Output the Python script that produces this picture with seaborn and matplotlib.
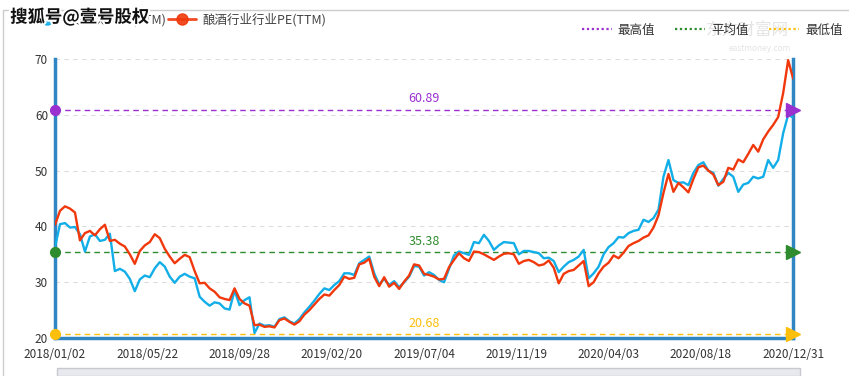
import matplotlib
matplotlib.use("Agg")
import matplotlib.pyplot as plt
from matplotlib.lines import Line2D
from matplotlib.patches import Rectangle
import matplotlib.patheffects as pe
import numpy as np
import pandas as pd
import seaborn as sns

# roughly weekly samples, 2018/01/02 .. 2020/12/31
food_pe = [
    36.3, 40.4, 40.6, 39.8, 39.9, 38.6, 35.5, 38.2, 38.6, 37.4,
    37.6, 38.7, 32.0, 32.4, 31.9, 30.6, 28.4, 30.5, 31.2, 30.9,
    32.5, 33.6, 32.8, 31.0, 29.9, 31.0, 31.5, 31.0, 30.7, 27.4,
    26.5, 25.8, 26.4, 26.2, 25.3, 25.1, 28.5, 25.9, 26.8, 27.3,
    20.9, 22.6, 22.2, 22.3, 22.0, 23.4, 23.7, 23.0, 22.6, 23.4,
    24.6, 25.6, 26.7, 27.9, 28.9, 28.6, 29.5, 30.2, 31.6, 31.6,
    31.3, 33.4, 34.0, 34.6, 31.6, 29.6, 30.6, 29.5, 30.2, 29.1,
    30.0, 31.0, 32.9, 32.8, 31.2, 31.8, 31.3, 30.4, 30.0, 32.4,
    34.8, 35.5, 35.2, 34.9, 37.2, 37.0, 38.5, 37.4, 35.8, 36.6,
    37.2, 37.1, 37.0, 35.0, 35.6, 35.6, 35.4, 35.2, 34.3, 34.4,
    33.8, 31.8, 32.8, 33.6, 34.0, 34.6, 35.8, 30.7, 31.6, 32.8,
    35.0, 36.3, 37.0, 38.1, 38.0, 38.8, 39.2, 39.4, 41.2, 40.8,
    41.5, 43.0, 48.9, 51.9, 48.3, 47.8, 47.9, 47.4, 49.6, 51.0,
    51.5, 50.0, 49.6, 47.3, 48.5, 49.6, 48.9, 46.2, 47.5, 47.8,
    48.9, 48.6, 48.9, 51.9, 50.5, 51.9, 56.7, 60.0, 59.5,
]
liquor_pe = [
    40.3, 42.8, 43.6, 43.2, 42.5, 37.5, 38.8, 39.2, 38.4, 39.5,
    40.3, 37.4, 37.6, 36.9, 36.4, 35.0, 33.3, 35.6, 36.6, 37.2,
    38.6, 37.9, 36.0, 34.6, 33.4, 34.2, 34.9, 34.5, 32.0, 29.8,
    29.9, 28.9, 28.3, 27.3, 27.0, 26.8, 28.9, 27.0, 26.2, 25.8,
    22.3, 22.4, 22.0, 22.1, 21.9, 23.2, 23.5, 22.9, 22.4, 23.0,
    24.2, 25.0, 26.0, 27.0, 27.8, 27.6, 28.6, 29.5, 31.0, 30.6,
    30.8, 33.2, 33.5, 34.2, 31.0, 29.3, 30.9, 29.2, 29.9, 28.8,
    30.1, 31.2, 33.2, 33.0, 31.5, 31.3, 31.0, 30.5, 30.6, 32.7,
    34.0, 35.2, 34.3, 33.8, 35.5, 35.4, 35.0, 34.5, 34.0, 34.6,
    35.1, 35.2, 35.0, 33.3, 33.8, 34.0, 33.6, 33.0, 33.2, 33.9,
    32.6, 29.8, 31.5, 32.0, 32.2, 33.0, 33.8, 29.3, 30.0, 31.6,
    32.8, 33.5, 34.8, 34.3, 35.3, 36.5, 37.0, 37.4, 38.0, 38.4,
    39.8, 42.0, 46.0, 49.4, 46.2, 47.8, 47.0, 46.1, 48.5, 50.6,
    50.9, 50.0, 49.3, 47.4, 48.0, 50.5, 50.2, 52.0, 51.5, 53.0,
    54.6, 53.4, 55.6, 57.0, 58.2, 59.6, 63.9, 69.8, 66.5,
]
date_labels = ["2018/01/02", "2018/05/22", "2018/09/28", "2019/02/20", "2019/07/04",
               "2019/11/19", "2020/04/03", "2020/08/18", "2020/12/31"]
ref_names = ["最高值", "平均值", "最低值"]
ref_values = [60.89, 35.38, 20.68]

series_names = ["食品饮料PE(TTM)", "酿酒行业行业PE(TTM)"]
blue = "#12aee8"
red = "#f0380c"
ref_colors = ["#9b30d0", "#2e8b2e", "#fdbf0a"]
spine_col = "#2f86c3"

sns.set_theme(style="white")
plt.rcParams['font.family'] = ['Noto Sans CJK SC', 'DejaVu Sans']

n = len(food_pe)
df = pd.DataFrame({"idx": np.arange(n), "food": food_pe, "liquor": liquor_pe})

fig = plt.figure(figsize=(8.49, 3.76), dpi=100)
ax = fig.add_axes([0.0648, 0.101, 0.8694, 0.742])

for yv in [30, 40, 50, 60, 70]:
    ax.axhline(yv, color="#dddddd", lw=0.8, ls=(0, (4, 4)), zorder=0)

sns.lineplot(data=df, x="idx", y="food", color=blue, lw=1.7, ax=ax, zorder=3)
sns.lineplot(data=df, x="idx", y="liquor", color=red, lw=1.7, ax=ax, zorder=4)

for v, c in zip(ref_values, ref_colors):
    ax.axhline(v, color=c, lw=1.0, ls=(0, (4, 3)), zorder=2)
    ax.plot([0], [v], marker="o", ms=7, color=c, clip_on=False, zorder=6)
    ax.plot([n - 1], [v], marker=">", ms=10, color=c, clip_on=False, zorder=6)
    ax.text((n - 1) / 2, v + 0.8, f"{v:.2f}", color=c, fontsize=9, ha="center", va="bottom")

ax.set_xlim(0, n - 1)
ax.set_ylim(20, 70)
ax.set_yticks([20, 30, 40, 50, 60, 70])
ax.set_xticks(np.linspace(0, n - 1, len(date_labels)))
ax.set_xticklabels(date_labels)
ax.tick_params(axis="both", labelsize=8.5, labelcolor="#333333", length=0)
ax.tick_params(axis="x", pad=7)
ax.tick_params(axis="y", pad=5)
ax.set_xlabel("")
ax.set_ylabel("")
ax.spines["top"].set_visible(False)
for s in ["left", "right", "bottom"]:
    ax.spines[s].set_color(spine_col)
    ax.spines[s].set_linewidth(2.5)

# legends
h1 = [Line2D([], [], color=c, lw=2, marker="o", ms=8, alpha=0.9) for c in [blue, red]]
fig.legend(h1, series_names, loc="center left", bbox_to_anchor=(0.026, 0.948), ncol=2,
           frameon=False, fontsize=9, handlelength=2.2, columnspacing=0.2, handletextpad=0.5,
           labelcolor="#444444")
h2 = [Line2D([], [], color=c, lw=1.6, ls=(0, (1, 1.2))) for c in ref_colors]
fig.legend(h2, ref_names, loc="center right", bbox_to_anchor=(1.006, 0.92), ncol=3,
           frameon=False, fontsize=9, handlelength=2.4, columnspacing=1.6, handletextpad=0.5,
           labelcolor="#333333")

# frame and slider bar
fig.add_artist(Line2D([0.004, 1.0], [0.973, 0.973], color="#cccccc", lw=1, transform=fig.transFigure))
fig.add_artist(Line2D([0.004, 0.004], [0.0, 0.973], color="#cccccc", lw=1, transform=fig.transFigure))
fig.add_artist(Rectangle((0.067, 0.0), 0.875, 0.02, transform=fig.transFigure,
                         facecolor="#e8e8ee", edgecolor="#c8c8d0", lw=1))

# watermarks
fig.text(0.88, 0.92, "东方财富网", fontsize=12, color="#e4e4e4", ha="center", va="center", zorder=0)
fig.text(0.895, 0.87, "eastmoney.com", fontsize=6, color="#e4e4e4", ha="center", va="center", zorder=0)
t = fig.text(0.012, 0.955, "搜狐号@壹号股权", fontsize=12.5, fontweight="bold", color="#111111",
             ha="left", va="center", zorder=10)
t.set_path_effects([pe.withStroke(linewidth=3, foreground="white")])

fig.savefig("out.png", dpi=100)
